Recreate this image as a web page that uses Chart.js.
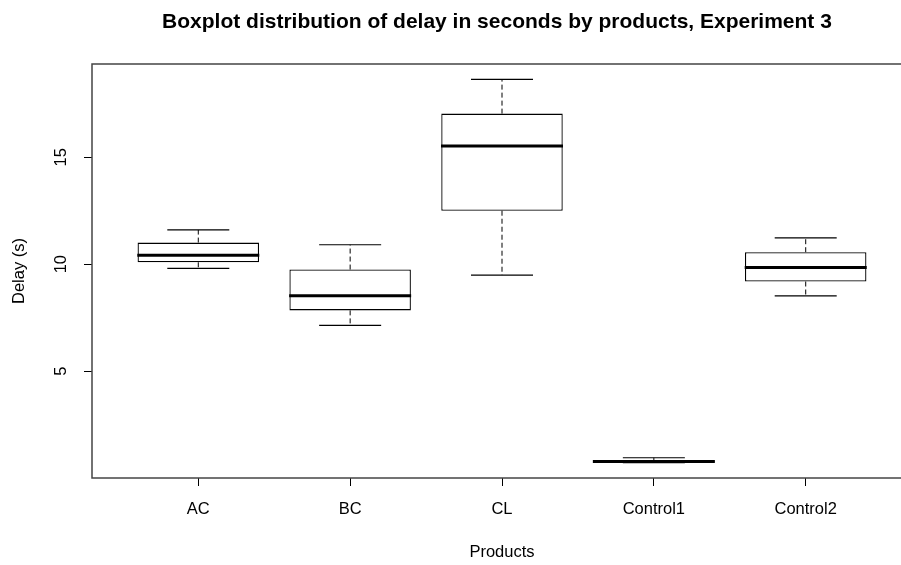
<!DOCTYPE html>
<html>
<head>
<meta charset="utf-8">
<script src="https://cdn.jsdelivr.net/npm/chart.js@4/dist/chart.umd.min.js"></script>
<style>
  html, body { margin: 0; padding: 0; background: #fff; overflow: hidden; }
  #wrap { width: 901px; height: 565px; overflow: hidden; }
  canvas { display: block; }
</style>
</head>
<body>
<div id="wrap"><canvas id="c" width="1004" height="565"></canvas></div>
<script>
// ---- data ----
const categories = ['AC', 'BC', 'CL', 'Control1', 'Control2'];
const mins    = [9.80, 7.14,  9.49, 0.72, 8.52];
const q1s     = [10.09, 7.84, 12.50, 0.74, 9.19];
const medians = [10.42, 8.52, 15.53, 0.78, 9.84];
const q3s     = [11.01, 9.75, 17.04, 0.82, 10.56];
const maxs    = [11.60, 10.91, 18.64, 0.95, 11.23];
const yTicks  = [5, 10, 15];

const chartTitle = 'Boxplot distribution of delay in seconds by products, Experiment 3';
const xTitle = 'Products';
const yTitle = 'Delay (s)';

// ---- derived structures ----
const positions = categories.map((_, i) => i + 1);
const boxData = positions.map((x, i) => ({ x: x, y: [q1s[i], q3s[i]] }));
const medianData = positions.map((x, i) => ({ x: x, y: medians[i] }));
const capData = [];
positions.forEach((x, i) => { capData.push({ x: x, y: mins[i] }); capData.push({ x: x, y: maxs[i] }); });
const whiskerData = [];
positions.forEach((x, i) => {
  whiskerData.push({ x: x, y: q3s[i] }, { x: x, y: maxs[i] }, { x: x, y: null });
  whiskerData.push({ x: x, y: q1s[i] }, { x: x, y: mins[i] }, { x: x, y: null });
});

const FONT = "'Liberation Sans', Arial, Helvetica, sans-serif";

const framePlugin = {
  id: 'frame',
  afterLayout(chart) {
    // R centres the main title slightly left of the plot centre
    if (chart.titleBlock) { chart.titleBlock.left = 82; }
  },
  beforeDatasetsDraw(chart) {
    const a = chart.chartArea, ctx = chart.ctx;
    ctx.save();
    ctx.strokeStyle = '#444';
    ctx.lineWidth = 1.5;
    ctx.strokeRect(Math.round(a.left), Math.round(a.top),
                   Math.round(a.right - a.left), Math.round(a.bottom - a.top));
    ctx.restore();
  }
};

new Chart(document.getElementById('c'), {
  type: 'bar',
  data: {
    datasets: [
      {
        type: 'line', data: whiskerData, order: 4,
        borderColor: '#000', borderWidth: 1, borderDash: [5, 3],
        pointRadius: 0, spanGaps: false, fill: false, tension: 0
      },
      {
        type: 'bar', data: boxData, order: 3,
        backgroundColor: '#fff', borderColor: '#000', borderWidth: 1.3,
        borderSkipped: false, barPercentage: 0.8, categoryPercentage: 1.0
      },
      {
        type: 'scatter', data: capData, order: 2,
        pointStyle: 'line', pointRadius: 31, pointBorderWidth: 1.2,
        pointBorderColor: '#000', pointBackgroundColor: '#000'
      },
      {
        type: 'scatter', data: medianData, order: 1,
        pointStyle: 'line', pointRadius: 61, pointBorderWidth: 3,
        pointBorderColor: '#000', pointBackgroundColor: '#000'
      }
    ]
  },
  options: {
    responsive: false,
    animation: false,
    devicePixelRatio: 1,
    events: [],
    layout: { padding: { left: 0, right: 92, top: 0, bottom: 0 } },
    plugins: {
      legend: { display: false },
      tooltip: { enabled: false },
      title: {
        display: true, text: chartTitle, color: '#000',
        font: { family: FONT, size: 21, weight: 'bold', lineHeight: 1.2 },
        padding: { top: 9.4, bottom: 29.4 }
      }
    },
    scales: {
      x: {
        type: 'linear', min: 0.3, max: 5.7, offset: false, bounds: 'data',
        afterBuildTicks: s => { s.ticks = positions.map(v => ({ value: v })); },
        afterFit: s => { s.height = 87; },
        ticks: {
          color: '#000', padding: 13.6, maxRotation: 0, autoSkip: false,
          font: { family: FONT, size: 16.5 },
          callback: v => categories[Math.round(v) - 1]
        },
        grid: { drawOnChartArea: false, drawTicks: true, tickLength: 8, tickColor: '#000', offset: false },
        border: { display: false },
        title: {
          display: true, text: xTitle, color: '#000',
          font: { family: FONT, size: 16.5 }, padding: { top: 0, bottom: 3.1 }
        }
      },
      y: {
        type: 'linear', min: 0.003, max: 19.36, bounds: 'data',
        afterBuildTicks: s => { s.ticks = yTicks.map(v => ({ value: v })); },
        afterFit: s => { s.width = 92; },
        ticks: {
          color: '#000', padding: 13.8, minRotation: 90, maxRotation: 90,
          crossAlign: 'center', autoSkip: false,
          font: { family: FONT, size: 16.5 },
          callback: v => String(v)
        },
        grid: { drawOnChartArea: false, drawTicks: true, tickLength: 8, tickColor: '#000' },
        border: { display: false },
        title: {
          display: true, text: yTitle, color: '#000',
          font: { family: FONT, size: 16.5 }, padding: { top: 10, bottom: 0 }
        }
      }
    }
  },
  plugins: [framePlugin]
});
</script>
</body>
</html>
